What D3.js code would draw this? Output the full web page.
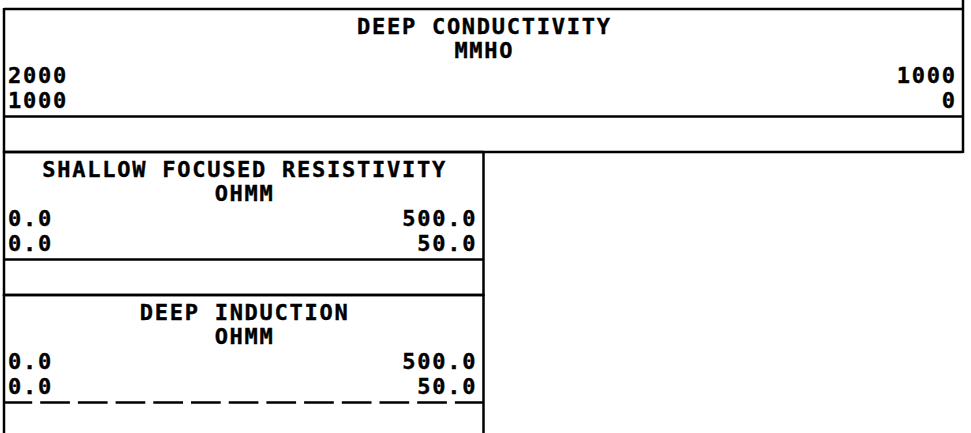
<!DOCTYPE html>
<html>
<head>
<meta charset="utf-8">
<script src="https://cdn.jsdelivr.net/npm/d3@7"></script>
<style>
  body { margin: 0; background: #fff; }
  text { font-family: "DejaVu Sans Mono", monospace; font-weight: bold; font-size: 22px; letter-spacing: 1.75px; fill: #000; stroke: #000; stroke-width: 0.4px; }
</style>
</head>
<body>
<div id="chart"></div>
<script>
/* Log header: curve name, unit and scale limits for each track */

const curveNames = ["DEEP CONDUCTIVITY", "SHALLOW FOCUSED RESISTIVITY", "DEEP INDUCTION"];
const curveUnits = ["MMHO", "OHMM", "OHMM"];
const scaleLeft1 = ["2000", "0.0", "0.0"];
const scaleRight1 = ["1000", "500.0", "500.0"];
const scaleLeft2 = ["1000", "0.0", "0.0"];
const scaleRight2 = ["0", "50.0", "50.0"];
const trackSpan = [2, 1, 1]; // how many tracks each header spans

const width = 971, height = 433;
const ls = 1.75; // letter spacing, trailing space to compensate

let svg = d3.select("#chart")
    .append("svg")
    .attr("width", width)
    .attr("height", height)
    .attr("viewBox", [0, 0, width, height]);

/* x: track index -> pixels, y: header index -> pixels */
let x = d3.scaleLinear().domain([0, 2]).range([4, 963]);
let y = d3.scaleLinear().domain([0, 3]).range([9, 438]);

let data = curveNames.map((name, i) => ({
    name: name,
    unit: curveUnits[i],
    l1: scaleLeft1[i], r1: scaleRight1[i],
    l2: scaleLeft2[i], r2: scaleRight2[i],
    span: trackSpan[i],
    i: i
}));

let box = svg.selectAll(".box")
    .data(data)
    .join("g")
    .attr("class", "box")
    .attr("transform", d => `translate(0,${y(d.i)})`);

const stroke = 2.5;
const boxH = y(1) - y(0);

// top and bottom borders
box.append("line")
    .attr("x1", x(0)).attr("x2", d => x(d.span))
    .attr("y1", 0).attr("y2", 0)
    .attr("stroke", "#000").attr("stroke-width", stroke);

box.append("line")
    .attr("x1", x(0)).attr("x2", d => x(d.span))
    .attr("y1", boxH).attr("y2", boxH)
    .attr("stroke", "#000").attr("stroke-width", stroke);

// left and right borders
box.append("line")
    .attr("x1", x(0)).attr("x2", x(0))
    .attr("y1", -1).attr("y2", boxH + 1)
    .attr("stroke", "#000").attr("stroke-width", stroke);

box.append("line")
    .attr("x1", d => x(d.span)).attr("x2", d => x(d.span))
    .attr("y1", d => d.i === 0 ? -y(0) : -1)
    .attr("y2", boxH + 1)
    .attr("stroke", "#000").attr("stroke-width", stroke);

// line sample row (only the deep induction curve is drawn dashed)
box.append("line")
    .attr("x1", x(0)).attr("x2", d => x(d.span))
    .attr("y1", 107.5).attr("y2", 107.5)
    .attr("stroke", "#000").attr("stroke-width", stroke)
    .attr("stroke-dasharray", d => d.i === 2 ? "29.7,8" : null)
    .attr("stroke-dashoffset", d => d.i === 2 ? 1.5 : null);

// texts
box.append("text")
    .attr("x", d => (x(0) + x(d.span)) / 2 + ls / 2)
    .attr("y", 24.5)
    .attr("text-anchor", "middle")
    .text(d => d.name);

box.append("text")
    .attr("x", d => (x(0) + x(d.span)) / 2 + ls / 2)
    .attr("y", 49.3)
    .attr("text-anchor", "middle")
    .text(d => d.unit);

box.append("text")
    .attr("x", x(0) + 4)
    .attr("y", 74)
    .text(d => d.l1);

box.append("text")
    .attr("x", d => x(d.span) - 8 + ls)
    .attr("y", 74)
    .attr("text-anchor", "end")
    .text(d => d.r1);

box.append("text")
    .attr("x", x(0) + 4)
    .attr("y", 99)
    .text(d => d.l2);

box.append("text")
    .attr("x", d => x(d.span) - 8 + ls)
    .attr("y", 99)
    .attr("text-anchor", "end")
    .text(d => d.r2);
</script>
</body>
</html>
